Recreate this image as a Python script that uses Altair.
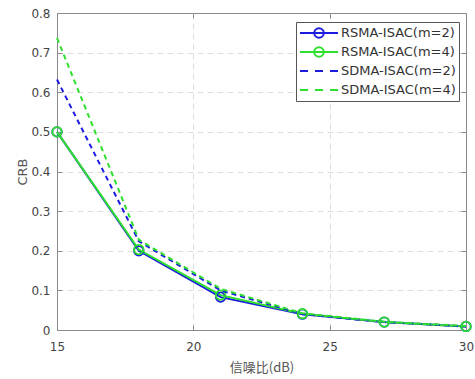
import altair as alt
import pandas as pd

snr = [15, 18, 21, 24, 27, 30]
rsma_m2 = [0.500, 0.200, 0.083, 0.040, 0.020, 0.009]
rsma_m4 = [0.500, 0.203, 0.088, 0.041, 0.020, 0.009]
sdma_m2 = [0.632, 0.224, 0.100, 0.040, 0.020, 0.009]
sdma_m4 = [0.737, 0.228, 0.104, 0.042, 0.021, 0.010]

series_names = ["RSMA-ISAC(m=2)", "RSMA-ISAC(m=4)", "SDMA-ISAC(m=2)", "SDMA-ISAC(m=4)"]
series_keys = ["s0", "s1", "s2", "s3"]
series_values = [rsma_m2, rsma_m4, sdma_m2, sdma_m4]
colors = ["#1c1ce0", "#2ee02e", "#1c1ce0", "#2ee02e"]

x_ticks = [15, 20, 25, 30]
y_ticks = [0, 0.1, 0.2, 0.3, 0.4, 0.5, 0.6, 0.7, 0.8]

rows = []
for name, key, vals in zip(series_names, series_keys, series_values):
    for x, v in zip(snr, vals):
        rows.append({"snr": x, "crb": v, "series": name, "key": key, "kind": name[:4]})
df = pd.DataFrame(rows)

FONT = "DejaVu Sans"
AX = "#8a8a8a"
x_scale = alt.Scale(domain=[15, 30], nice=False, zero=False)
y_scale = alt.Scale(domain=[0, 0.8], nice=False)

x_enc = alt.X(
    "snr:Q", scale=x_scale,
    axis=alt.Axis(values=x_ticks, title="信噪比(dB)", titleFont="Noto Sans CJK SC",
                  titleFontSize=13, titleFontWeight="normal", titleColor="#555555",
                  titlePadding=9, labelPadding=11, ticks=False,
                  labelFont=FONT, labelFontSize=12, labelColor="#444444",
                  gridDash=[6, 4], gridColor="#dedede", domainColor=AX,
                  gridOpacity={"condition": {"test": "datum.value <= 15 || datum.value >= 30", "value": 0}, "value": 1},
                  labelFlush=False),
)
y_enc = alt.Y(
    "crb:Q", scale=y_scale,
    axis=alt.Axis(values=y_ticks, format=".1~f", title="CRB", titleFont=FONT,
                  titleFontSize=13, titleFontWeight="normal", titleColor="#555555",
                  titlePadding=1, labelPadding=7, ticks=False,
                  labelFont=FONT, labelFontSize=12, labelColor="#444444",
                  gridOpacity={"condition": {"test": "datum.value <= 0 || datum.value >= 0.79", "value": 0}, "value": 1},
                  gridDash=[6, 4], gridColor="#dedede", domainColor=AX),
)
stroke_enc = alt.Stroke("key:N", scale=alt.Scale(domain=series_keys, range=colors), legend=None)

base = alt.Chart(df)

solid = base.transform_filter(alt.datum.kind == "RSMA").mark_line(strokeWidth=2).encode(
    x=x_enc, y=y_enc, stroke=stroke_enc, detail="key:N")
dashed = base.transform_filter(alt.datum.kind == "SDMA").mark_line(strokeWidth=2, strokeDash=[5, 4]).encode(
    x=x_enc, y=y_enc, stroke=stroke_enc, detail="key:N")
markers = base.transform_filter(alt.datum.kind == "RSMA").mark_point(
    filled=False, size=90, strokeWidth=1.8, opacity=1).encode(x=x_enc, y=y_enc, stroke=stroke_enc)

path_solid = "M-1,0H1M-0.25,0A0.25,0.25,0,1,1,0.25,0A0.25,0.25,0,1,1,-0.25,0"
path_dash = "M-1,0H-0.58M-0.21,0H0.21M0.58,0H1"

leg = alt.Legend(title=None, orient="none", legendX=239, legendY=9,
                 fillColor="white", strokeColor="#555555", padding=3,
                 symbolSize=1444, symbolStrokeWidth=2, symbolOpacity=1,
                 clipHeight=16, rowPadding=3, labelOffset=2,
                 labelFont=FONT, labelFontSize=13, labelColor="#333333", labelLimit=300)

legend_layer = base.mark_point(filled=False, strokeWidth=2, size=0).encode(
    x=x_enc, y=y_enc,
    color=alt.Color("series:N", scale=alt.Scale(domain=series_names, range=colors), legend=leg),
    shape=alt.Shape("series:N", scale=alt.Scale(domain=series_names,
                    range=[path_solid, path_solid, path_dash, path_dash]), legend=leg),
)

main = alt.layer(solid, markers, dashed, legend_layer)


def tick_axis(orient):
    return alt.Axis(orient=orient, values=x_ticks if orient in ("top", "bottom") else y_ticks,
                    offset=-5, tickSize=5, tickColor=AX, tickWidth=1, labels=False,
                    domain=False, grid=False, title=None)


ticks_a = base.mark_point(size=0, opacity=0).encode(
    x=alt.X("snr:Q", scale=x_scale, axis=tick_axis("bottom")),
    y=alt.Y("crb:Q", scale=y_scale, axis=tick_axis("left")),
)
ticks_b = base.mark_point(size=0, opacity=0).encode(
    x=alt.X("snr:Q", scale=x_scale, axis=tick_axis("top")),
    y=alt.Y("crb:Q", scale=y_scale, axis=tick_axis("right")),
)

chart = alt.layer(main, ticks_a, ticks_b).resolve_axis(x="independent", y="independent").properties(
    width=409, height=317,
    autosize=alt.AutoSizeParams(type="none"),
    padding={"left": 57, "top": 13, "right": 9, "bottom": 49},
    background="white",
).configure_view(stroke=AX, strokeWidth=1)

chart.save("out.html", embed_options={"renderer": "svg", "actions": False})
